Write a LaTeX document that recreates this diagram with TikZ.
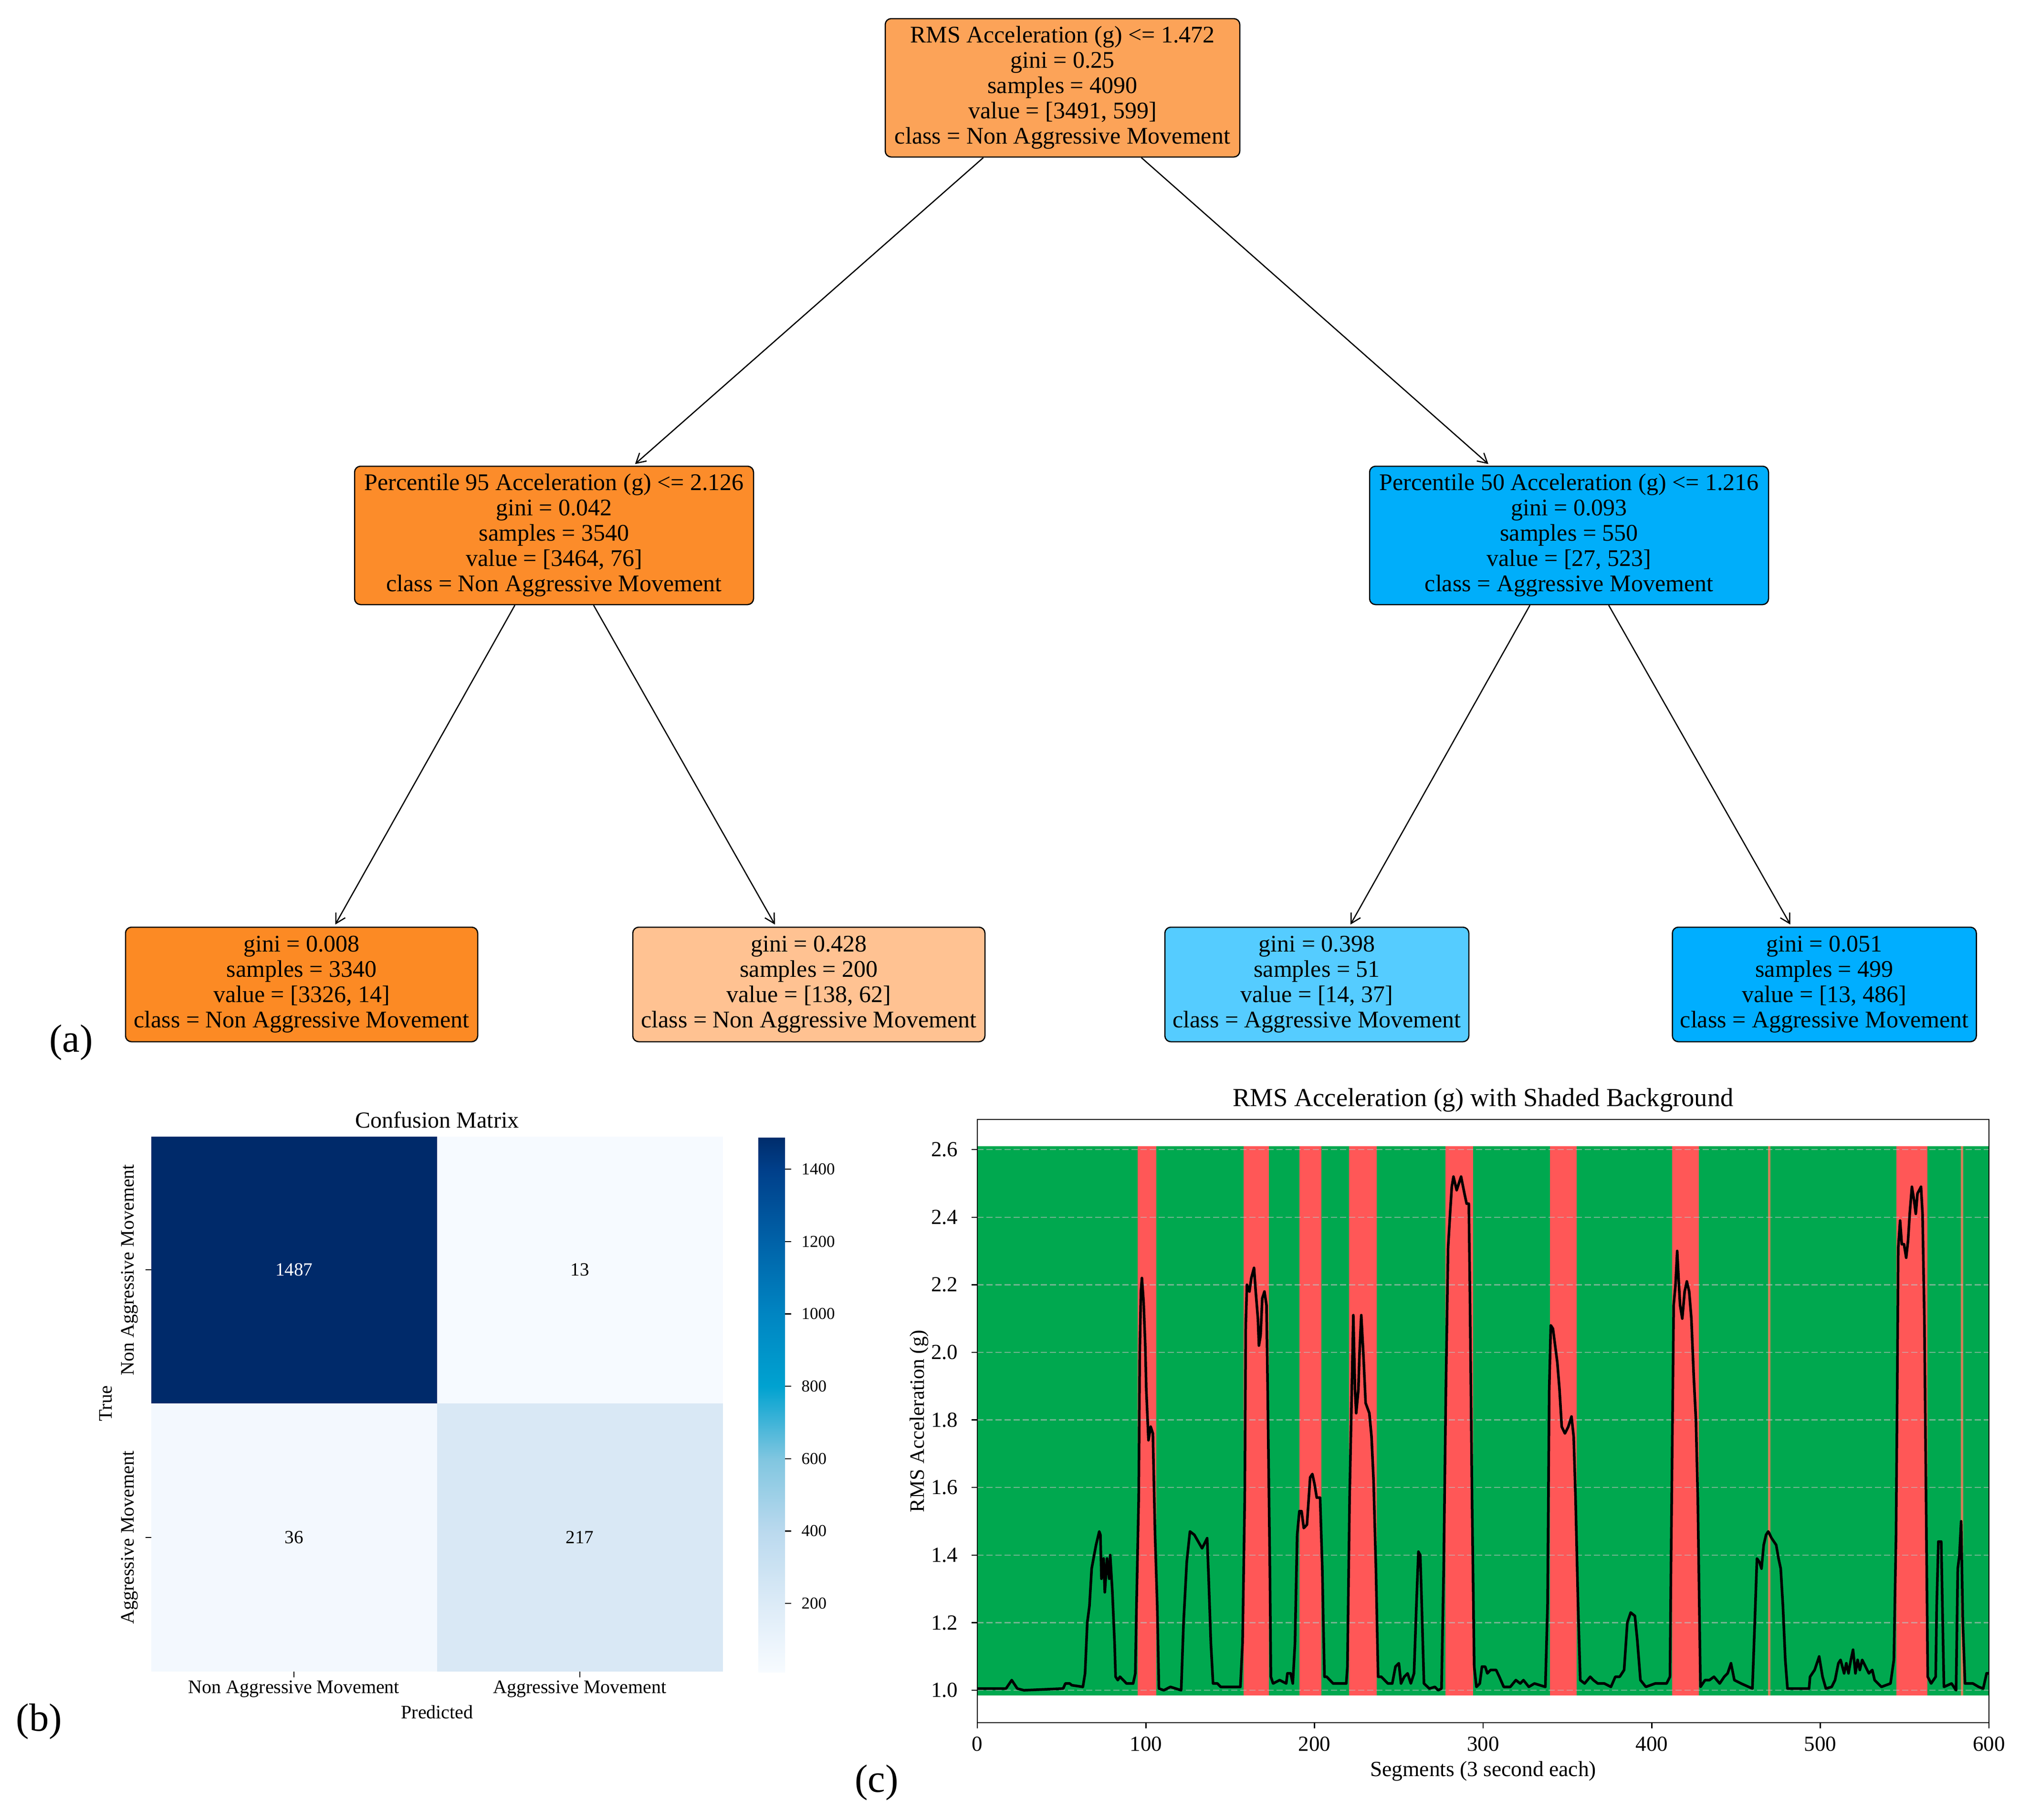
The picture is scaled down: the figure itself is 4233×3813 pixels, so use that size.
\documentclass[tikz,border=0pt]{standalone}
\usepackage{fontspec}
\setmainfont{Liberation Serif}
\usetikzlibrary{arrows.meta}
\definecolor{rootc}{RGB}{252,163,88}
\definecolor{lorange}{RGB}{252,140,42}
\definecolor{lblue}{RGB}{0,174,250}
\definecolor{llorange}{RGB}{252,138,36}
\definecolor{peach}{RGB}{255,194,146}
\definecolor{skyb}{RGB}{85,204,255}
\definecolor{deepb}{RGB}{0,174,255}
\definecolor{cmnavy}{RGB}{0,42,106}
\definecolor{cmpale}{RGB}{246,250,255}
\definecolor{cmpale2}{RGB}{243,248,254}
\definecolor{cmlight}{RGB}{217,232,245}
\definecolor{cbA}{RGB}{247,251,255}
\definecolor{cbB}{RGB}{220,235,247}
\definecolor{cbC}{RGB}{186,217,238}
\definecolor{cbD}{RGB}{128,198,224}
\definecolor{cbE}{RGB}{0,162,208}
\definecolor{cbF}{RGB}{0,133,194}
\definecolor{cbG}{RGB}{0,98,168}
\definecolor{cbH}{RGB}{0,63,138}
\definecolor{cbI}{RGB}{0,45,108}
\definecolor{plotgreen}{RGB}{0,168,79}
\definecolor{plotred}{RGB}{255,87,87}
\definecolor{thinband}{RGB}{205,128,88}
\begin{document}
\begin{tikzpicture}[x=0.2pt,y=-0.2pt,
  treenode/.style={draw=black, line width=0.5pt, rounded corners=2.5pt, align=center,
    font=\fontsize{10}{10.6}\selectfont, inner sep=0pt},
  inner/.style={treenode, minimum width=836*0.2pt, minimum height=290*0.2pt},
  leafwide/.style={treenode, minimum width=738*0.2pt, minimum height=240*0.2pt},
  leafnarrow/.style={treenode, minimum width=637*0.2pt, minimum height=240*0.2pt},
  edge/.style={line width=0.5pt, -{Straight Barb[length=4pt,width=4.5pt]}, shorten >=1pt},
  cmnum/.style={font=\fontsize{7.8}{9}\selectfont},
  cmlab/.style={font=\fontsize{8}{9}\selectfont},
  cbtick/.style={font=\fontsize{7}{8}\selectfont, anchor=west},
  plottick/.style={font=\fontsize{9}{10}\selectfont},
  panellab/.style={font=\fontsize{16.5}{18}\selectfont},
  gridline/.style={line width=0.5pt, draw=white!75!black, opacity=0.6, dash pattern=on 2.6pt off 1.2pt},
  tickline/.style={line width=0.5pt}]
\useasboundingbox (0,0) rectangle (4233,3813);
\fill[white] (0,0) rectangle (4233,3813);

% ---------------- (a) decision tree ----------------
\node[treenode, fill=rootc, minimum width=743*0.2pt, minimum height=290*0.2pt] (root) at (2226.5,184)
  {RMS Acceleration (g) <= 1.472\\gini = 0.25\\samples = 4090\\value = [3491, 599]\\class = Non Aggressive Movement};
\node[inner, fill=lorange] (nl) at (1161,1122)
  {Percentile 95 Acceleration (g) <= 2.126\\gini = 0.042\\samples = 3540\\value = [3464, 76]\\class = Non Aggressive Movement};
\node[inner, fill=lblue] (nr) at (3288,1122)
  {Percentile 50 Acceleration (g) <= 1.216\\gini = 0.093\\samples = 550\\value = [27, 523]\\class = Aggressive Movement};
\node[leafwide, fill=llorange] (ll) at (632,2063)
  {gini = 0.008\\samples = 3340\\value = [3326, 14]\\class = Non Aggressive Movement};
\node[leafwide, fill=peach] (lr) at (1695,2063)
  {gini = 0.428\\samples = 200\\value = [138, 62]\\class = Non Aggressive Movement};
\node[leafnarrow, fill=skyb] (rl) at (2759.5,2063)
  {gini = 0.398\\samples = 51\\value = [14, 37]\\class = Aggressive Movement};
\node[leafnarrow, fill=deepb] (rr) at (3823,2063)
  {gini = 0.051\\samples = 499\\value = [13, 486]\\class = Aggressive Movement};
\draw[edge] (root) -- (nl);
\draw[edge] (root) -- (nr);
\draw[edge] (nl) -- (ll);
\draw[edge] (nl) -- (lr);
\draw[edge] (nr) -- (rl);
\draw[edge] (nr) -- (rr);
\node[panellab] (la) at (149,2185) {(a)};

% ---------------- (b) confusion matrix ----------------
\fill[cmnavy] (317,2382) rectangle (916,2941);
\fill[cmpale] (916,2382) rectangle (1515,2941);
\fill[cmpale2] (317,2941) rectangle (916,3503);
\fill[cmlight] (916,2941) rectangle (1515,3503);
\node[cmnum, text=white] (c11) at (616,2661) {1487};
\node[cmnum] (c12) at (1215,2661) {13};
\node[cmnum] (c21) at (616,3222) {36};
\node[cmnum] (c22) at (1215,3222) {217};
\draw[tickline] (305,2661) -- (317,2661);
\draw[tickline] (305,3222) -- (317,3222);
\draw[tickline] (616,3503) -- (616,3515);
\draw[tickline] (1215,3503) -- (1215,3515);
\node[cmlab, rotate=90] (yt1) at (272,2661) {Non Aggressive Movement};
\node[cmlab, rotate=90] (yt2) at (272,3222) {Aggressive Movement};
\node[cmlab, rotate=90] (ytrue) at (222,2941) {True};
\node[cmlab] (xt1) at (616,3540) {Non Aggressive Movement};
\node[cmlab] (xt2) at (1215,3540) {Aggressive Movement};
\node[cmlab] (xpred) at (916,3588) {Predicted};
\node[font=\fontsize{9.6}{11}\selectfont] (cmtitle) at (916,2347) {Confusion Matrix};
% colorbar
\shade[bottom color=cbA, top color=cbB] (1589,3504) rectangle (1645,3360);
\shade[bottom color=cbB, top color=cbC] (1589,3360.5) rectangle (1645,3208);
\shade[bottom color=cbC, top color=cbD] (1589,3208.5) rectangle (1645,3056.5);
\shade[bottom color=cbD, top color=cbE] (1589,3057) rectangle (1645,2905);
\shade[bottom color=cbE, top color=cbF] (1589,2905.5) rectangle (1645,2753);
\shade[bottom color=cbF, top color=cbG] (1589,2753.5) rectangle (1645,2601.5);
\shade[bottom color=cbG, top color=cbH] (1589,2602) rectangle (1645,2450);
\shade[bottom color=cbH, top color=cbI] (1589,2450.5) rectangle (1645,2384);
\foreach \v/\yy in {200/3360,400/3208.3,600/3056.7,800/2905,1000/2753.3,1200/2601.7,1400/2450}{
  \draw[tickline] (1645,\yy) -- (1658,\yy);
  \node[cbtick] at (1662,\yy) {\v};
}
\node[panellab] (lb) at (82,3608) {(b)};

% ---------------- (c) time series ----------------
\node[font=\fontsize{10.9}{12}\selectfont] (ptitle) at (3108,2305) {RMS Acceleration (g) with Shaded Background};
\begin{scope}[xshift=409.6pt, yshift=-850.02pt, x=0.7066pt, y=141.62pt]
  \fill[plotgreen] (0,0.984) rectangle (600,2.61);
  \foreach \a/\b in {95/106, 158/173, 191/204, 220.5/237, 277.5/294, 339.5/355.5, 412/428, 545/563.5}{
    \fill[plotred] (\a,0.984) rectangle (\b,2.61);
  }
  \fill[thinband] (469,0.984) rectangle (470.3,2.61);
  \fill[thinband] (583.4,0.984) rectangle (584.7,2.61);
  \foreach \v in {1.0,1.2,1.4,1.6,1.8,2.0,2.2,2.4,2.6}{
    \draw[gridline] (0,\v) -- (600,\v);
  }
  \draw[line width=1.1pt, line join=round] plot coordinates {
(0,1.005) (17,1.005) (20.4,1.03) (23.7,1.005) (27.6,1.0) (50.9,1.005) (52.2,1.02) (54.8,1.02) (56,1.015) (62.6,1.01) (63.9,1.05) (65.2,1.20) (66.5,1.25) (67.8,1.36) (70.4,1.43) (72.3,1.47) (73,1.46) (73.6,1.33) (74.9,1.39) (75.6,1.29) (76.9,1.39) (78.2,1.33) (78.8,1.40) (80.1,1.29) (81.4,1.14) (82,1.04) (83.3,1.03) (84.6,1.04) (88.5,1.02) (92.4,1.02) (93.7,1.05) (94.4,1.25) (95.7,1.57) (96.3,1.99) (97,2.18) (97.6,2.22) (98.6,2.15) (99.6,2.02) (100.2,1.89) (101.5,1.74) (102.8,1.78) (104.1,1.76) (104.7,1.62) (105.4,1.46) (106.7,1.25) (107.7,1.005) (110.6,1.0) (114.5,1.01) (120.9,1.0) (122.3,1.20) (124.2,1.38) (126.1,1.47) (128.7,1.46) (133.3,1.42) (136.3,1.45) (137.2,1.33) (138.5,1.14) (139.8,1.02) (142.4,1.02) (144.3,1.01) (156,1.01) (157.3,1.14) (158.6,1.57) (159.2,2.08) (159.9,2.20) (161.4,2.18) (162.5,2.22) (164.1,2.25) (165.1,2.18) (166.4,2.10) (167,2.02) (168,2.05) (169,2.16) (170.3,2.18) (171.5,2.14) (172.2,1.89) (173.5,1.36) (174.1,1.04) (175.4,1.02) (179.3,1.03) (183.2,1.02) (183.9,1.05) (185.8,1.05) (187.1,1.02) (188.4,1.14) (189.7,1.46) (191,1.53) (192.3,1.53) (193.6,1.48) (195.5,1.49)
(197.4,1.63) (198.7,1.64) (200,1.61) (201.3,1.57) (203.3,1.57) (204.6,1.36) (205.2,1.20) (205.9,1.04) (207.2,1.04) (211,1.02) (218.8,1.02) (219.5,1.07) (220.8,1.57) (222.1,1.89) (223,2.11) (224,1.89) (224.7,1.82) (226,1.89) (226.6,1.99) (227.7,2.11) (229,1.99) (230.3,1.85) (232.5,1.82) (233.8,1.75) (235,1.62) (236.4,1.36) (237.7,1.04) (239.6,1.04) (243.5,1.02) (246.1,1.02) (248,1.07) (250,1.08) (251.3,1.02) (253.2,1.04) (255.2,1.05) (257.1,1.02) (259,1.05) (260.4,1.25) (261.6,1.41) (262.7,1.40) (263.6,1.25) (264.9,1.02) (268.1,1.005) (271.4,1.01) (273.3,1.0) (275.3,1.005) (276.6,1.36) (277.9,1.89) (279.2,2.31) (280.5,2.42) (281.4,2.49) (282.4,2.52) (284.3,2.48) (285.6,2.50) (286.9,2.52) (288.9,2.47) (290.2,2.44) (291.5,2.44) (292.1,2.20) (293.4,1.57) (294.7,1.07) (296,1.01) (298,1.02) (299.3,1.07) (301.2,1.07) (302.5,1.05) (304.4,1.06) (307.7,1.06) (309.6,1.04) (312.2,1.01) (316.1,1.01) (319.4,1.03) (322,1.02) (323.9,1.03) (327.1,1.01) (330.4,1.02) (336.9,1.01) (338.2,1.25) (339.2,1.89) (340.1,2.08) (341.4,2.07) (342.7,2.02) (344,1.97) (345.3,1.89) (346.6,1.78) (348.5,1.76) (350.5,1.78) (352.4,1.81) (353.7,1.75) (354.8,1.57) (356.3,1.25) (357.6,1.03) (360.2,1.02) (363.5,1.04) (365.4,1.03) (368,1.02) (371.9,1.02) (375.8,1.01) (378.4,1.04) (381,1.04) (383.6,1.06) (385.5,1.20) (387.5,1.23) (390,1.22) (391.4,1.15) (393.3,1.03) (396.5,1.01)
(402,1.02) (404.7,1.02) (408.8,1.02) (410.8,1.04) (411.4,1.36) (412.5,1.89) (413,2.14) (414.1,2.20) (415.1,2.30) (415.9,2.22) (416.8,2.14) (418.1,2.10) (419.5,2.18) (420.8,2.21) (422.2,2.18) (423.5,2.10) (424.9,1.93) (426.2,1.80) (427.3,1.57) (428.2,1.25) (428.9,1.01) (431.6,1.03) (434.2,1.03) (436.9,1.04) (440.3,1.02) (443,1.04) (445,1.05) (447,1.08) (449,1.03) (453,1.02) (459.7,1.005) (461.1,1.20) (462.4,1.39) (463.8,1.38) (465.1,1.36) (466.4,1.43) (467.8,1.46) (469.1,1.47) (471.1,1.45) (473.8,1.43) (475.2,1.39) (476.5,1.36) (477.8,1.25) (479.2,1.09) (480.5,1.005) (493.3,1.005) (493.9,1.04) (496.6,1.06) (499.3,1.10) (501.3,1.04) (503.3,1.005) (506.7,1.01) (508.7,1.03) (510.7,1.08) (512,1.09) (514.1,1.05) (515.4,1.08) (516.7,1.05) (518.1,1.09) (519.4,1.12) (520.8,1.05) (522.1,1.09) (523.4,1.06) (524.8,1.09) (526.8,1.07) (528.8,1.05) (530.8,1.06) (532.2,1.03) (536.2,1.01) (541.6,1.02) (543.6,1.09) (544.9,1.46) (545.6,1.89) (546.2,2.31) (547.3,2.39) (548.3,2.32) (549.6,2.32) (550.9,2.28) (552,2.33) (553,2.41) (554.3,2.49) (555.6,2.45) (556.6,2.41) (557.6,2.47) (559.7,2.49) (560.6,2.41) (561.7,2.10) (562.7,1.57) (563.7,1.04) (565.7,1.02) (568.4,1.04) (569,1.25) (570,1.44) (571.7,1.44) (572.4,1.25) (573.3,1.01) (577.8,1.02) (580.5,1.0) (581.5,1.36) (582.5,1.40) (583.5,1.50) (584.5,1.20) (585.8,1.02) (590.5,1.02) (593.9,1.01) (596.6,1.005) (598.6,1.05) (600,1.05)
  };
  \draw[line width=0.5pt] (0,0.904) rectangle (600,2.689);
  \foreach \v in {1.0,1.2,1.4,1.6,1.8,2.0,2.2,2.4,2.6}{
    \draw[tickline] (0,\v) -- ++(-2.4pt,0);
    \node[plottick, anchor=east] at ([xshift=-4.6pt]0,\v) {\v};
  }
  \foreach \s in {0,100,200,300,400,500,600}{
    \draw[tickline] (\s,0.904) -- ++(0,-2.4pt);
    \node[plottick] at ([yshift=-9pt]\s,0.904) {\s};
  }
\end{scope}
\node[font=\fontsize{8.6}{10}\selectfont, rotate=90] (ylab) at (1926,2978) {RMS Acceleration (g)};
\node[font=\fontsize{9.1}{10}\selectfont] (xlab) at (3108,3712) {Segments (3 second each)};
\node[panellab] (lc) at (1837,3736) {(c)};
\end{tikzpicture}
\end{document}
